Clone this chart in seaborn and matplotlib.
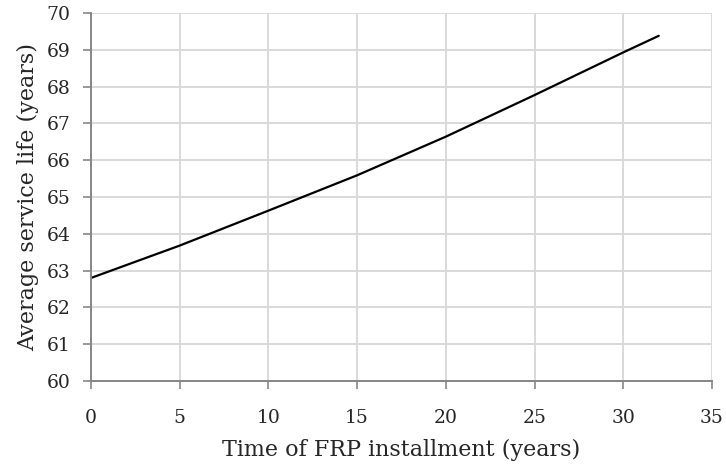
import numpy as np
import pandas as pd
import matplotlib
matplotlib.use("Agg")
import matplotlib.pyplot as plt
import seaborn as sns

# values
install_time = [0, 5, 10, 15, 20, 25, 30, 32]
service_life = [62.80, 63.68, 64.63, 65.59, 66.64, 67.77, 68.93, 69.38]
x_ticks = [0, 5, 10, 15, 20, 25, 30, 35]
y_ticks = [60, 61, 62, 63, 64, 65, 66, 67, 68, 69, 70]

df = pd.DataFrame({"time": install_time, "life": service_life})

sns.set_theme(style="white")
plt.rcParams["font.family"] = ["DejaVu Serif"]

fig = plt.figure(figsize=(7.26, 4.72), dpi=100)
ax = fig.add_axes([91 / 726, 91 / 472, 621 / 726, 368 / 472])

sns.lineplot(data=df, x="time", y="life", color="black", linewidth=1.6, ax=ax)

ax.set_xlim(0, 35)
ax.set_ylim(60, 70)
ax.set_xticks(x_ticks)
ax.set_yticks(y_ticks)
ax.grid(True, color="#d9d9d9", linewidth=1.4)
ax.set_axisbelow(True)

for side in ["top", "right"]:
    ax.spines[side].set_visible(False)
for side in ["left", "bottom"]:
    ax.spines[side].set_color("#868686")
    ax.spines[side].set_linewidth(1.4)

ax.tick_params(axis="x", direction="out", length=6, width=1.2, color="#868686",
               pad=14, labelsize=13.5, bottom=True)
ax.tick_params(axis="y", direction="out", length=6, width=1.2, color="#868686",
               pad=9, labelsize=13.5, left=True)

ax.set_xlabel("Time of FRP installment (years)", fontsize=16, labelpad=9)
ax.set_ylabel("Average service life (years)", fontsize=16, labelpad=5)

fig.savefig("out.png", dpi=100)
